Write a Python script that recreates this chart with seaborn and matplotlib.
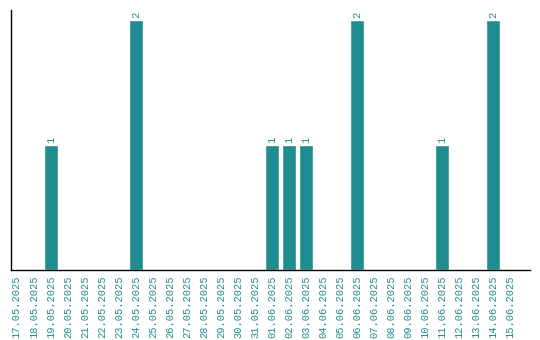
import matplotlib
matplotlib.use("Agg")
import matplotlib.pyplot as plt
import seaborn as sns
import pandas as pd

sns.set_style("white")
plt.rcParams['font.family'] = ['Liberation Mono', 'DejaVu Sans Mono']

dates = [f"{d:02d}.05.2025" for d in range(17, 32)] + [f"{d:02d}.06.2025" for d in range(1, 16)]
counts = [0, 0, 1, 0, 0, 0, 0, 2, 0, 0, 0, 0, 0, 0, 0,
          1, 1, 1, 0, 0, 2, 0, 0, 0, 0, 1, 0, 0, 2, 0]

df = pd.DataFrame({"date": dates, "count": counts})
teal = "#1f8c8f"

fig = plt.figure(figsize=(5.4, 3.4), dpi=100)
ax = fig.add_axes([0.02, 0.205, 0.962, 0.765])
sns.barplot(x="date", y="count", data=df, color=teal, saturation=1, width=0.82, ax=ax)

for i, v in enumerate(counts):
    if v > 0:
        ax.text(i, v + 0.02, str(v), rotation=90, ha="center", va="bottom", color=teal, fontsize=7.5)

ax.set_ylim(0, 2.08)
ax.set_xlim(-0.35, len(dates) + 0.18)
ax.set_xlabel("")
ax.set_ylabel("")
ax.set_yticks([])
ax.tick_params(axis="x", rotation=90, labelsize=7.5, labelcolor=teal, length=0, pad=4)
for s in ["top", "right"]:
    ax.spines[s].set_visible(False)
for s in ["left", "bottom"]:
    ax.spines[s].set_color("black")
    ax.spines[s].set_linewidth(1)

fig.savefig("out.png", dpi=100)
